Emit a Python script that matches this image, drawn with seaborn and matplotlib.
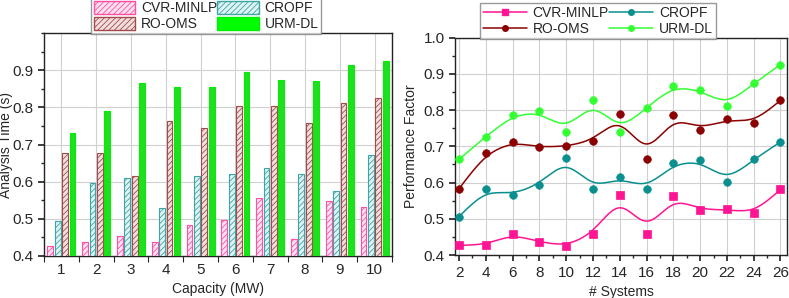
import numpy as np
import pandas as pd
import matplotlib
matplotlib.use("Agg")
import matplotlib.pyplot as plt
import seaborn as sns
from matplotlib.patches import Patch
from matplotlib.lines import Line2D
from matplotlib.ticker import MultipleLocator, FixedLocator

# données du graphique de gauche (temps d'analyse)
methods = ["CVR-MINLP", "CROPF", "RO-OMS", "URM-DL"]
capacity = [1, 2, 3, 4, 5, 6, 7, 8, 9, 10]
time_cvr = [0.428, 0.437, 0.455, 0.438, 0.483, 0.498, 0.555, 0.445, 0.547, 0.533]
time_cropf = [0.495, 0.597, 0.609, 0.530, 0.615, 0.622, 0.636, 0.622, 0.574, 0.671]
time_ro = [0.678, 0.678, 0.614, 0.762, 0.745, 0.805, 0.803, 0.759, 0.811, 0.824]
time_urm = [0.732, 0.790, 0.866, 0.855, 0.855, 0.894, 0.874, 0.872, 0.915, 0.925]

# données du graphique de droite (facteur de performance)
systems = [2, 4, 6, 8, 10, 12, 14, 16, 18, 20, 22, 24, 26]
perf_cvr = [0.427, 0.428, 0.459, 0.436, 0.424, 0.457, 0.567, 0.458, 0.563, 0.524, 0.526, 0.515, 0.581]
perf_cropf = [0.506, 0.581, 0.566, 0.594, 0.669, 0.581, 0.616, 0.581, 0.653, 0.661, 0.602, 0.664, 0.712]
perf_ro = [0.583, 0.681, 0.713, 0.697, 0.700, 0.714, 0.789, 0.666, 0.786, 0.746, 0.775, 0.765, 0.827]
perf_urm = [0.664, 0.727, 0.786, 0.797, 0.740, 0.829, 0.739, 0.807, 0.867, 0.855, 0.811, 0.874, 0.925]

bar_edge = ["#ff4fa7", "#3aa6a6", "#a54a4a", "#00ee00"]
bar_face = ["#ffe0ef", "#e0f3f3", "#f2dede", "#00ff00"]
line_colors = ["#ff1493", "#0a8f8f", "#8b0000", "#33ff33"]
markers = ["s", "o", "o", "o"]
# ordre des entrées pour remplir la légende ligne par ligne (2 colonnes)
leg_order = [0, 2, 1, 3]

sns.set_theme(style="ticks")
plt.rcParams["font.family"] = ["Liberation Sans", "DejaVu Sans"]
plt.rcParams["hatch.linewidth"] = 0.6


def smooth(x, y, bw=1.2, n=300):
    # régression locale linéaire (noyau gaussien) pour une courbe lissée
    x = np.asarray(x, float)
    y = np.asarray(y, float)
    xs = np.linspace(x.min(), x.max(), n)
    ys = []
    for x0 in xs:
        w = np.exp(-0.5 * ((x - x0) / bw) ** 2)
        X = np.column_stack([np.ones_like(x), x - x0])
        W = np.diag(w)
        beta = np.linalg.solve(X.T @ W @ X, X.T @ W @ y)
        ys.append(beta[0])
    return xs, np.array(ys)


fig = plt.figure(figsize=(7.89, 2.98), dpi=100)
ax1 = fig.add_axes([0.0558, 0.141, 0.441, 0.748])
ax2 = fig.add_axes([0.5767, 0.144, 0.421, 0.730])

# --- barres ---
df_bar = pd.DataFrame({
    "Capacity": capacity * 4,
    "Time": time_cvr + time_cropf + time_ro + time_urm,
    "Method": sum([[m] * len(capacity) for m in methods], []),
})
sns.barplot(data=df_bar, x="Capacity", y="Time", hue="Method", hue_order=methods,
            palette=bar_face, width=0.85, gap=0.22, legend=False, ax=ax1,
            zorder=3, err_kws={"linewidth": 0})
for i, cont in enumerate(ax1.containers):
    for p in cont:
        p.set_edgecolor(bar_edge[i])
        p.set_linewidth(0.8)
        if i < 3:
            p.set_hatch("//////")
ax1.set_xlim(-0.5, 9.5)
ax1.set_ylim(0.4, 1.0)
ax1.yaxis.set_major_locator(FixedLocator([0.4, 0.5, 0.6, 0.7, 0.8, 0.9]))
ax1.yaxis.set_minor_locator(MultipleLocator(0.05))
ax1.xaxis.set_minor_locator(FixedLocator(np.arange(-0.5, 10, 1)))
ax1.grid(True, which="major", color="#d0d0d0", linewidth=0.8, zorder=0)
ax1.set_axisbelow(True)
ax1.tick_params(axis="x", which="major", length=0, labelsize=11, pad=5)
ax1.tick_params(axis="x", which="minor", length=4, width=0.8)
ax1.tick_params(axis="y", which="major", length=4, labelsize=11)
ax1.tick_params(axis="y", which="minor", length=2)
ax1.set_xlabel("Capacity (MW)", fontsize=10)
ax1.set_ylabel("Analysis Time (s)", fontsize=10)
ax1.yaxis.set_label_coords(-0.088, 0.5)
for s in ax1.spines.values():
    s.set_color("#222222")
    s.set_linewidth(1.0)
h1 = [Patch(facecolor=bar_face[i], edgecolor=bar_edge[i],
            hatch="//////" if i < 3 else None) for i in range(4)]
leg1 = ax1.legend([h1[i] for i in leg_order], [methods[i] for i in leg_order],
                  ncol=2, loc="lower center", bbox_to_anchor=(0.466, 0.995),
                  fontsize=10, frameon=True, fancybox=False, edgecolor="#808080",
                  handlelength=3.0, handleheight=1.1, columnspacing=0.0,
                  handletextpad=0.4, borderpad=0.2, labelspacing=0.15, borderaxespad=0)
leg1.get_frame().set_linewidth(1.0)

# --- courbes ---
series = [perf_cvr, perf_cropf, perf_ro, perf_urm]
for i, vals in enumerate(series):
    xs, ys = smooth(systems, vals)
    sns.lineplot(x=xs, y=ys, color=line_colors[i], linewidth=1.1, ax=ax2, zorder=3)
    sns.scatterplot(x=systems, y=vals, color=line_colors[i], marker=markers[i], s=30,
                    edgecolor=line_colors[i], linewidth=0.5, ax=ax2, zorder=4)
ax2.set_xlim(1.7, 26.5)
ax2.set_ylim(0.4, 1.0)
ax2.xaxis.set_major_locator(FixedLocator(systems))
ax2.xaxis.set_minor_locator(MultipleLocator(1))
ax2.yaxis.set_major_locator(MultipleLocator(0.1))
ax2.yaxis.set_minor_locator(MultipleLocator(0.05))
ax2.grid(True, which="major", color="#d0d0d0", linewidth=0.8, zorder=0)
ax2.set_axisbelow(True)
ax2.tick_params(axis="both", which="major", length=4, labelsize=11)
ax2.tick_params(axis="both", which="minor", length=2)
ax2.set_xlabel("# Systems", fontsize=10)
ax2.set_ylabel("Performance Factor", fontsize=10)
ax2.yaxis.set_label_coords(-0.112, 0.5)
for s in ax2.spines.values():
    s.set_color("#222222")
    s.set_linewidth(1.0)
h2 = [Line2D([], [], color=line_colors[i], marker=markers[i], markersize=4, linewidth=1.1)
      for i in range(4)]
leg2 = ax2.legend([h2[i] for i in leg_order], [methods[i] for i in leg_order],
                  ncol=2, loc="lower center", bbox_to_anchor=(0.43, 0.995),
                  fontsize=10, frameon=True, fancybox=False, edgecolor="#808080",
                  handlelength=3.2, columnspacing=0.0, handletextpad=0.4,
                  borderpad=0.2, labelspacing=0.15, borderaxespad=0)
leg2.get_frame().set_linewidth(1.0)

fig.savefig("out.png", dpi=100)
